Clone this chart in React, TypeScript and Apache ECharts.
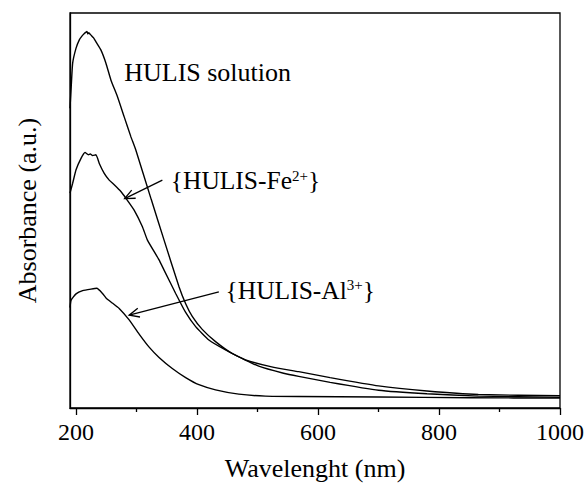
import React, { useEffect, useRef } from "react";
import * as echarts from "echarts";

const FONT = "Liberation Serif";

// Axis ticks
const xMajorTicks = [200, 400, 600, 800, 1000];
const xMinorTicks = [300, 500, 700, 900];

// Series: wavelength (nm) and absorbance (a.u.)
const wlSolution = [190, 192, 194.4, 200, 205.4, 210, 213.7, 216, 218.1, 219.5, 221, 224.7, 229, 232.9, 241.2, 249.4, 257.7, 268.5, 279.6, 290.6, 298.8, 324.5, 345.5, 370.2, 381.2, 392.1, 408.6, 430.6, 458, 502, 543, 568, 620, 700, 780, 865, 1000];
const absSolution = [0.759, 0.813, 0.873, 0.911, 0.932, 0.942, 0.948, 0.951, 0.953, 0.947, 0.95, 0.944, 0.937, 0.927, 0.906, 0.873, 0.83, 0.788, 0.737, 0.687, 0.653, 0.527, 0.425, 0.307, 0.264, 0.232, 0.199, 0.168, 0.138, 0.106, 0.088, 0.08, 0.065, 0.045, 0.036, 0.03, 0.027];

const wlFe = [190, 194.4, 200, 208.2, 214.8, 220.3, 223.6, 227.3, 232.9, 238.4, 246.6, 254.8, 263.1, 274.1, 282.4, 296, 309.7, 318, 337.2, 345.5, 364.7, 381.2, 397.7, 419.6, 447.1, 480.1, 523.4, 568, 620, 700, 780, 865, 1000];
const absFe = [0.544, 0.569, 0.603, 0.632, 0.647, 0.641, 0.643, 0.639, 0.641, 0.619, 0.594, 0.577, 0.565, 0.548, 0.531, 0.501, 0.459, 0.425, 0.375, 0.349, 0.29, 0.242, 0.206, 0.172, 0.147, 0.122, 0.104, 0.092, 0.077, 0.056, 0.043, 0.034, 0.031];

const wlAl = [190, 191.8, 200, 210.9, 224.7, 234.3, 243.8, 249.9, 259.8, 271.3, 287.8, 304.3, 320.8, 337.2, 359.1, 381.2, 403.1, 430.6, 469, 513, 568, 700, 850, 1000];
const absAl = [0.254, 0.273, 0.289, 0.297, 0.301, 0.303, 0.29, 0.278, 0.266, 0.252, 0.223, 0.187, 0.154, 0.128, 0.1, 0.077, 0.059, 0.046, 0.035, 0.03, 0.029, 0.028, 0.026, 0.025];

// Annotations (data coordinates)
const labelTexts = ["HULIS solution", "{HULIS-Fe{s|2+}}", "{HULIS-Al{s|3+}}"];
const labelWl = [279.6, 356.5, 447.1];
const labelAbs = [0.849, 0.575, 0.298];

const arrowFromWl = [342.7, 436.1];
const arrowFromAbs = [0.577, 0.294];
const arrowToWl = [280.4, 287.8];
const arrowToAbs = [0.53, 0.235];

const zip = (xs: number[], ys: number[]) => xs.map((x, i) => [x, ys[i]]);

export default function App() {
  const ref = useRef<HTMLDivElement>(null);
  useEffect(() => {
    document.body.style.margin = "0";
    if (!ref.current) return;
    const chart = echarts.init(ref.current, undefined, { renderer: "svg" });
    const lineSeries = (name: string, data: number[][]) => ({
      type: "line",
      name,
      data,
      xAxisIndex: 0,
      showSymbol: false,
      symbol: "none",
      smooth: 0.15,
      lineStyle: { color: "#000", width: 1.4 },
      silent: true,
    });
    chart.setOption({
      animation: false,
      backgroundColor: "#fff",
      textStyle: { fontFamily: FONT },
      grid: {
        left: 70,
        right: 25,
        top: 13,
        bottom: 79,
        show: true,
        borderColor: "#000",
        borderWidth: 1.3,
      },
      xAxis: [
        {
          type: "value",
          min: 190,
          max: 1000,
          position: "bottom",
          name: "Wavelenght (nm)",
          nameLocation: "middle",
          nameGap: 47,
          nameTextStyle: { fontFamily: FONT, fontSize: 26, color: "#000" },
          axisLine: { show: true, lineStyle: { color: "#000", width: 1.3 } },
          axisTick: { show: true, inside: false, length: 7, customValues: xMajorTicks, lineStyle: { color: "#000", width: 1.3 } },
          axisLabel: {
            show: true,
            customValues: xMajorTicks,
            margin: 12,
            fontFamily: FONT,
            fontSize: 24,
            color: "#000",
            formatter: (v: number) => String(v),
          },
          splitLine: { show: false },
        },
        {
          type: "value",
          min: 190,
          max: 1000,
          position: "bottom",
          axisLine: { show: false },
          axisTick: { show: true, inside: false, length: 4, customValues: xMinorTicks, lineStyle: { color: "#000", width: 1.3 } },
          axisLabel: { show: false },
          splitLine: { show: false },
        },
      ],
      yAxis: {
        type: "value",
        min: 0,
        max: 1,
        name: "Absorbance (a.u.)",
        nameLocation: "middle",
        nameGap: 30,
        nameTextStyle: { fontFamily: FONT, fontSize: 26, color: "#000" },
        axisLine: { show: true, lineStyle: { color: "#000", width: 1.3 } },
        axisTick: { show: false },
        axisLabel: { show: false },
        splitLine: { show: false },
      },
      series: [
        lineSeries("HULIS solution", zip(wlSolution, absSolution)),
        lineSeries("{HULIS-Fe2+}", zip(wlFe, absFe)),
        lineSeries("{HULIS-Al3+}", zip(wlAl, absAl)),
        {
          type: "custom",
          name: "arrows",
          xAxisIndex: 0,
          silent: true,
          z: 5,
          data: arrowFromWl.map((w, i) => [w, arrowFromAbs[i], arrowToWl[i], arrowToAbs[i]]),
          encode: { x: [0, 2], y: [1, 3] },
          renderItem: (params: any, api: any) => {
            const p1 = api.coord([api.value(0), api.value(1)]);
            const p2 = api.coord([api.value(2), api.value(3)]);
            const ang = Math.atan2(p1[1] - p2[1], p1[0] - p2[0]);
            const L = 11;
            const a = 0.42;
            const h1 = [p2[0] + L * Math.cos(ang + a), p2[1] + L * Math.sin(ang + a)];
            const h2 = [p2[0] + L * Math.cos(ang - a), p2[1] + L * Math.sin(ang - a)];
            return {
              type: "group",
              children: [
                { type: "line", shape: { x1: p1[0], y1: p1[1], x2: p2[0], y2: p2[1] }, style: { stroke: "#000", lineWidth: 1.3 } },
                { type: "polyline", shape: { points: [h1, p2, h2] }, style: { stroke: "#000", fill: null, lineWidth: 1.3 } },
              ],
            };
          },
        },
        {
          type: "custom",
          name: "labels",
          xAxisIndex: 0,
          silent: true,
          z: 6,
          data: zip(labelWl, labelAbs),
          encode: { x: 0, y: 1 },
          renderItem: (params: any, api: any) => {
            const p = api.coord([api.value(0), api.value(1)]);
            return {
              type: "text",
              x: p[0],
              y: p[1],
              style: {
                text: labelTexts[params.dataIndex],
                fontFamily: FONT,
                fontSize: params.dataIndex === 0 ? 26 : 25.5,
                lineHeight: 25,
                fill: "#000",
                align: "left",
                verticalAlign: "middle",
                rich: {
                  s: { fontFamily: FONT, fontSize: 15, lineHeight: 12, verticalAlign: "top", fill: "#000" },
                },
              },
            };
          },
        },
      ],
    });
    return () => chart.dispose();
  }, []);
  return <div ref={ref} style={{ width: 587, height: 487 }} />;
}
